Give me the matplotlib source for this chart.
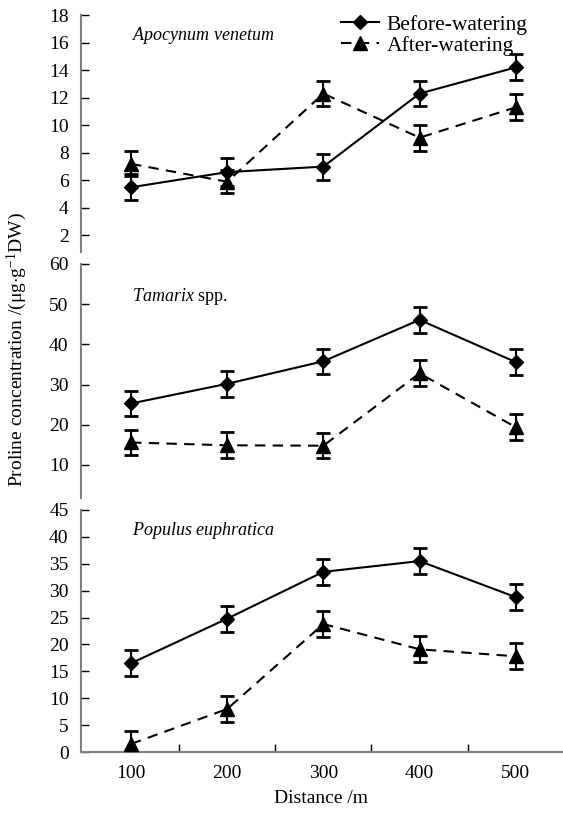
import numpy as np
import matplotlib
matplotlib.use('Agg')
import matplotlib.pyplot as plt
from matplotlib.lines import Line2D

plt.rcParams['font.family'] = ['Liberation Serif', 'DejaVu Serif']
plt.rcParams['mathtext.fontset'] = 'custom'
plt.rcParams['mathtext.rm'] = 'Liberation Serif'
plt.rcParams['mathtext.it'] = 'Liberation Serif:italic'

# distances (m)
distance = [100, 200, 300, 400, 500]

# Apocynum venetum
apo_before = [5.5, 6.6, 7.0, 12.3, 14.2]
apo_before_err = [0.95, 1.0, 0.95, 0.9, 0.95]
apo_after = [7.2, 5.9, 12.3, 9.1, 11.3]
apo_after_err = [0.9, 0.85, 0.9, 0.95, 0.95]

# Tamarix spp.
tam_before = [25.3, 30.2, 35.8, 46.1, 35.6]
tam_before_err = [3.1, 3.2, 3.1, 3.2, 3.2]
tam_after = [15.6, 14.9, 14.8, 32.8, 19.4]
tam_after_err = [3.2, 3.2, 3.1, 3.2, 3.2]

# Populus euphratica
pop_before = [16.5, 24.8, 33.5, 35.5, 28.8]
pop_before_err = [2.45, 2.4, 2.4, 2.45, 2.4]
pop_after = [1.5, 8.0, 23.8, 19.1, 17.8]
pop_after_err = [2.5, 2.4, 2.35, 2.4, 2.4]

fig = plt.figure(figsize=(5.63, 8.13), dpi=100)

left, right = 0.1439, 0.998
boxes = [(0.690, 0.9815), (0.3875, 0.6753), (0.075, 0.3727)]
ylims = [(0.8, 18), (1.8, 60), (0, 45)]
yticks = [np.arange(2, 19, 2), np.arange(10, 61, 10), np.arange(0, 46, 5)]
titles = [r'$\it{Apocynum\ venetum}$', r'$\it{Tamarix}$ spp.', r'$\it{Populus\ euphratica}$']
title_y = [0.915, 0.86, 0.915]
data = [(apo_before, apo_before_err, apo_after, apo_after_err),
        (tam_before, tam_before_err, tam_after, tam_after_err),
        (pop_before, pop_before_err, pop_after, pop_after_err)]

dash = (0, (5, 3.5))
fs = 14
spine_col = '#7f7f7f'
for i in range(3):
    b, t = boxes[i]
    ax = fig.add_axes([left, b, right - left, t - b])
    bef, befe, aft, afte = data[i]
    ax.errorbar(distance, bef, yerr=befe, color='black', lw=1.5, ls='-',
                marker='D', ms=7, capsize=5, capthick=2, elinewidth=1.5, zorder=3)
    ax.errorbar(distance, aft, yerr=afte, color='black', lw=1.5, ls=dash,
                marker='^', ms=9.5, capsize=5, capthick=2, elinewidth=1.5, zorder=3)
    ax.set_xlim(48, 548)
    ax.set_ylim(*ylims[i])
    ax.set_yticks(yticks[i])
    for s in ['top', 'right']:
        ax.spines[s].set_visible(False)
    ax.spines['left'].set_color(spine_col)
    ax.spines['left'].set_linewidth(1.5)
    ax.tick_params(axis='y', direction='in', length=6, width=1, pad=9, labelsize=fs,
                   color='black')
    ax.text(0.105, title_y[i], titles[i], transform=ax.transAxes,
            fontsize=13, ha='left', va='center')
    if i < 2:
        ax.spines['bottom'].set_visible(False)
        ax.set_xticks([])
    else:
        ax.spines['bottom'].set_color(spine_col)
        ax.spines['bottom'].set_linewidth(1.5)
        ax.set_xticks(distance)
        ax.set_xticks([150, 250, 350, 450], minor=True)
        ax.tick_params(axis='x', which='major', length=0, pad=9, labelsize=fs)
        ax.tick_params(axis='x', which='minor', direction='in', length=6, width=1,
                       color='black')
        ax.set_xlabel('Distance /m', fontsize=fs, labelpad=6)
    if i == 0:
        handles = [Line2D([], [], color='black', lw=1.5, marker='D', ms=7),
                   Line2D([], [], color='black', lw=1.5, ls=dash, marker='^', ms=9.5)]
        ax.legend(handles, ['Before-watering', 'After-watering'], loc='upper left',
                  bbox_to_anchor=(0.572, 1.006), bbox_transform=fig.transFigure,
                  frameon=False, fontsize=15.5, handlelength=1.75,
                  handletextpad=0.35, labelspacing=0.05)

fig.text(0.03, 1 - 350 / 813, r'Proline concentration /(μg$\cdot$g$^{-1}$DW)',
         rotation=90, ha='center', va='center', fontsize=fs)

fig.savefig('out.png', dpi=100)
